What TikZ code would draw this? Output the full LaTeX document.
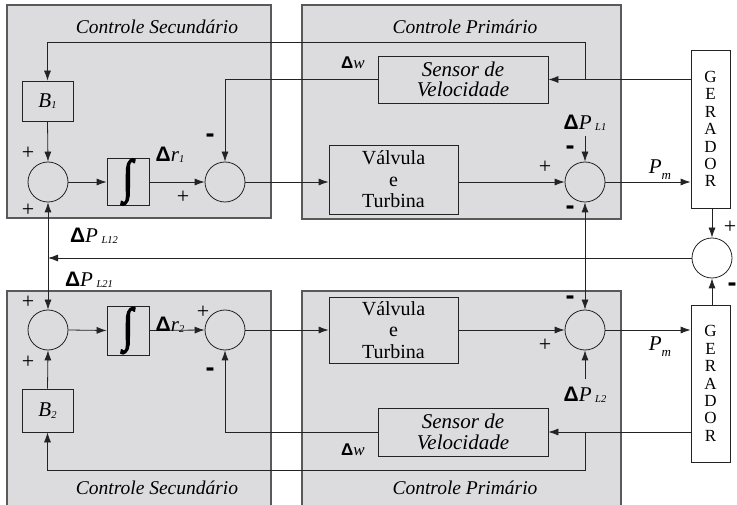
\documentclass[tikz,border=0pt]{standalone}
\usepackage{fontspec}
\setmainfont{Liberation Serif}
\newfontfamily\sansfont{Liberation Sans}
\newfontfamily\intfont[FakeBold=3]{Liberation Serif}
\usetikzlibrary{arrows.meta}

\definecolor{cinzacaixa}{RGB}{220,219,221}
\definecolor{traco}{RGB}{35,35,35}

% simbolos das legendas
\newcommand{\Dl}{{\sansfont\bfseries\char"0394}}
\newcommand{\ind}[1]{\raisebox{-1.5pt}{\fontsize{10.5}{10.5}\selectfont\itshape #1}}
\newcommand{\menos}{{\sansfont\bfseries\fontsize{27}{27}\selectfont -}}
\newcommand{\integral}{\scalebox{1}[1.25]{\intfont\fontsize{38}{38}\selectfont\char"222B}}

\tikzset{
  area/.style={draw=black!65, line width=1.2pt, fill=cinzacaixa},
  bloco/.style={draw=traco, line width=0.8pt, inner sep=0pt, align=center},
  somador/.style={circle, draw=traco, line width=0.8pt, minimum size=40pt, inner sep=0pt},
  linha/.style={draw=traco, line width=0.8pt},
  seta/.style={linha, -{Latex[length=10pt,width=7pt]}},
  dupla/.style={linha, {Latex[length=10pt,width=7pt]}-{Latex[length=10pt,width=7pt]}},
  titulo/.style={font=\fontsize{19.5}{22}\selectfont\itshape},
  sinal/.style={font=\fontsize{22}{22}\selectfont, inner sep=0pt},
  rotulo/.style={font=\fontsize{21}{21}\selectfont, inner sep=0pt},
  gerador/.style={bloco, minimum width=39pt, font=\fontsize{17}{17.4}\selectfont},
}

\begin{document}
\begin{tikzpicture}[x=1pt,y=-1pt,font=\fontsize{19.5}{22}\selectfont]
  \useasboundingbox (0,0) rectangle (737,505);

  % areas de controle
  \draw[area] (7,5) rectangle (271,218);
  \draw[area] (302,5) rectangle (621,219);
  \draw[area] (7,291) rectangle (271,510);
  \draw[area] (302,291) rectangle (621,510);
  \node[titulo] (tsec1) at (157,27) {Controle Secundário};
  \node[titulo] (tpri1) at (465,27) {Controle Primário};
  \node[titulo] (tsec2) at (157,488) {Controle Secundário};
  \node[titulo] (tpri2) at (465,488) {Controle Primário};

  % area 1
  \node[bloco, minimum width=51pt, minimum height=40pt, font=\fontsize{21}{21}\selectfont] (b1) at (47.5,101) {\itshape B\ind{1}};
  \node[somador] (s1a) at (48,182) {};
  \node[bloco, minimum width=42pt, minimum height=46pt] (int1) at (128,182) {\integral};
  \node[somador] (s1b) at (225,182) {};
  \node[bloco, minimum width=170pt, minimum height=47pt, font=\fontsize{21}{20.5}\selectfont\itshape] (sens1) at (463,79.5) {Sensor de\\Velocidade};
  \node[bloco, minimum width=129pt, minimum height=69pt, font=\fontsize{20}{21.5}\selectfont] (valv1) at (393.5,179.5) {Válvula\\e\\Turbina};
  \node[somador] (s1c) at (585,182) {};
  \node[gerador, minimum height=158pt] (ger1) at (710.5,129) {G\\E\\R\\A\\D\\O\\R};

  % area 2
  \node[bloco, minimum width=51pt, minimum height=43pt, font=\fontsize{21}{21}\selectfont] (b2) at (47.5,410.5) {\itshape B\ind{2}};
  \node[somador] (s2a) at (48,330) {};
  \node[bloco, minimum width=42pt, minimum height=49pt] (int2) at (128,330.5) {\integral};
  \node[somador] (s2b) at (225,330) {};
  \node[bloco, minimum width=170pt, minimum height=48pt, font=\fontsize{21}{20.5}\selectfont\itshape] (sens2) at (463,432) {Sensor de\\Velocidade};
  \node[bloco, minimum width=129pt, minimum height=66pt, font=\fontsize{20}{21.5}\selectfont] (valv2) at (393.5,330) {Válvula\\e\\Turbina};
  \node[somador] (s2c) at (585,330) {};
  \node[gerador, minimum height=157pt] (ger2) at (710.5,383.5) {G\\E\\R\\A\\D\\O\\R};

  % diferenca entre as areas
  \node[somador] (sd) at (712,258) {};

  % ligacoes da area 1
  \coordinate (n1) at (585,79.5);
  \coordinate (t1) at (585,42);
  \draw[seta] (sens1.east -| ger1.west) -- (sens1.east);
  \draw[seta] (n1) -- (t1) -| (b1.north);
  \draw[seta] (sens1.west) -| (s1b.north);
  \draw[seta] (b1.south) -- (s1a.north);
  \draw[seta] (s1a.east) -- (int1.west);
  \draw[seta] (int1.east) -- (s1b.west);
  \draw[seta] (s1b.east) -- (s1b.east -| valv1.west);
  \draw[seta] (valv1.east |- s1c.west) -- (s1c.west);
  \draw[seta] (s1c.east) -- (s1c.east -| ger1.west);
  \node[rotulo] (pl1) at (585,123) {\Dl\textit{P}\,\ind{L1}};
  \draw[seta] (585,136) -- (s1c.north);

  % ligacoes da area 2
  \coordinate (n2) at (585,432);
  \coordinate (t2) at (585,470);
  \draw[seta] (sens2.east -| ger2.west) -- (sens2.east);
  \draw[seta] (n2) -- (t2) -| (b2.south);
  \draw[seta] (sens2.west) -| (s2b.south);
  \draw[seta] (b2.north) -- (s2a.south);
  \draw[seta] (s2a.east) -- (int2.west);
  \draw[seta] (int2.east) -- (s2b.west);
  \draw[seta] (s2b.east) -- (s2b.east -| valv2.west);
  \draw[seta] (valv2.east |- s2c.west) -- (s2c.west);
  \draw[seta] (s2c.east) -- (s2c.east -| ger2.west);
  \node[rotulo] (pl2) at (585,395) {\Dl\textit{P}\,\ind{L2}};
  \draw[seta] (585,379) -- (s2c.south);

  % intercambio
  \draw[seta] (ger1.south -| sd.north) -- (sd.north);
  \draw[seta] (ger2.north -| sd.south) -- (sd.south);
  \draw[seta] (sd.west) -- (sd.west -| s1a.south);
  \draw[dupla] (s2a.north) -- (s1a.south);
  \draw[dupla] (s2c.north) -- (s1c.south);

  % legendas
  \node[rotulo] (dr1) at (170,155) {\Dl\textit{r}\ind{1}};
  \node[rotulo] (dr2) at (170,325) {\Dl\textit{r}\ind{2}};
  \node[rotulo, font=\fontsize{17}{17}\selectfont] (dw1) at (353,63) {\Dl\textit{w}};
  \node[rotulo, font=\fontsize{17}{17}\selectfont] (dw2) at (353,450) {\Dl\textit{w}};
  \node[rotulo] (pl12) at (94,236) {\Dl\textit{P}\,\ind{L12}};
  \node[rotulo] (pl21) at (89,280) {\Dl\textit{P}\,\ind{L21}};
  \node[rotulo] (pm1) at (660,170) {\textit{P}\raisebox{-6pt}{\fontsize{13}{13}\selectfont\itshape m}};
  \node[rotulo] (pm2) at (660,347) {\textit{P}\raisebox{-6pt}{\fontsize{13}{13}\selectfont\itshape m}};

  % sinais
  \node[sinal] (g1) at (28,153) {+};
  \node[sinal] (g2) at (28,210) {+};
  \node[sinal] (g3) at (183,197) {+};
  \node[sinal] (g4) at (210,138) {\menos};
  \node[sinal] (g5) at (545,167) {+};
  \node[sinal] (g6) at (570,150) {\menos};
  \node[sinal] (g7) at (570,210) {\menos};
  \node[sinal] (g8) at (730,227) {+};
  \node[sinal] (g9) at (732,287) {\menos};
  \node[sinal] (g10) at (28,302) {+};
  \node[sinal] (g11) at (28,362) {+};
  \node[sinal] (g12) at (203,312) {+};
  \node[sinal] (g13) at (210,372) {\menos};
  \node[sinal] (g14) at (570,300) {\menos};
  \node[sinal] (g15) at (545,345) {+};
\end{tikzpicture}
\end{document}
